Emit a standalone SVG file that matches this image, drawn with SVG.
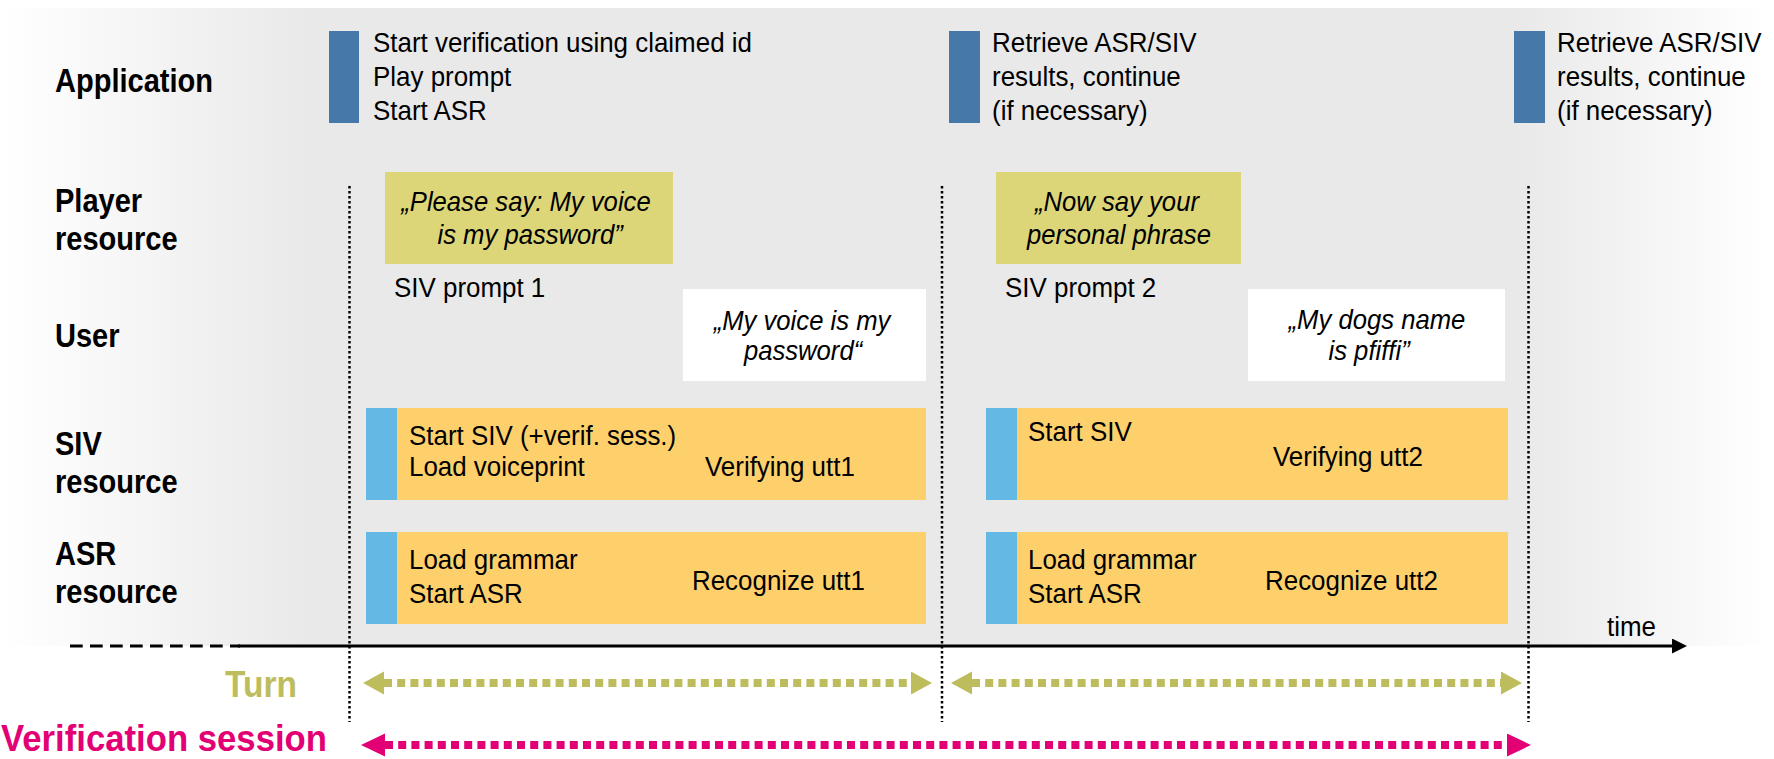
<svg xmlns="http://www.w3.org/2000/svg" width="1774" height="759" viewBox="0 0 1774 759">
  <defs>
    <linearGradient id="bgGrad" x1="0" y1="0" x2="1774" y2="0" gradientUnits="userSpaceOnUse">
      <stop offset="0" stop-color="#ffffff"/>
      <stop offset="0.175" stop-color="#e9e9e9"/>
      <stop offset="0.855" stop-color="#e9e9e9"/>
      <stop offset="0.997" stop-color="#ffffff"/>
    </linearGradient>
    <marker id="headOlive" markerUnits="userSpaceOnUse" markerWidth="22" markerHeight="24" refX="0" refY="11.5" orient="auto-start-reverse">
      <path d="M0,0 L21,11.5 L0,23 Z" fill="#bdbd5e"/>
    </marker>
    <marker id="headMagenta" markerUnits="userSpaceOnUse" markerWidth="25" markerHeight="24" refX="0" refY="11.5" orient="auto-start-reverse">
      <path d="M0,0 L24,11.5 L0,23 Z" fill="#e20074"/>
    </marker>
    <marker id="headTime" markerUnits="userSpaceOnUse" markerWidth="16" markerHeight="16" refX="0" refY="7.5" orient="auto">
      <path d="M0,0 L15,7.5 L0,15 Z" fill="#000000"/>
    </marker>
  </defs>
  <style>
    text { font-family: "Liberation Sans", Arial, sans-serif; fill: #000; }
    .lbl { font-size: 33px; font-weight: bold; transform-box: fill-box; transform-origin: 0 0; transform: scaleX(0.88); }
    .n { font-size: 28.5px; transform-box: fill-box; transform-origin: 0 0; transform: scaleX(0.91); }
    .it { font-size: 28.5px; font-style: italic; text-anchor: middle; transform-box: fill-box; transform-origin: 50% 0; transform: scaleX(0.9); }
    .turn { font-size: 37px; font-weight: bold; fill: #bdbd5e; }
    .vs { font-size: 36px; font-weight: bold; fill: #e20074; }
    .app { fill: #4678a9; }
    .prompt { fill: #dcd679; }
    .user { fill: #ffffff; }
    .res { fill: #fdd06b; }
    .start { fill: #63b8e4; }
    .sep { stroke: #000; stroke-width: 2.5; stroke-dasharray: 2.5 2.5; fill: none; }
    .turnline { stroke: #bdbd5e; stroke-width: 8; stroke-dasharray: 8 5.2; fill: none; marker-start: url(#headOlive); marker-end: url(#headOlive); }
    .vsline { stroke: #e20074; stroke-width: 8; stroke-dasharray: 8 5.2; fill: none; marker-start: url(#headMagenta); marker-end: url(#headMagenta); }
  </style>

  <!-- background -->
  <rect x="0" y="0" width="1774" height="759" fill="#ffffff"/>
  <rect x="0" y="8" width="1774" height="638" fill="url(#bgGrad)"/>

  <!-- lane labels -->
  <g id="lane-application"><text class="lbl" x="55" y="92">Application</text></g>
  <g id="lane-player"><text class="lbl" x="55" y="212">Player</text><text class="lbl" x="55" y="250">resource</text></g>
  <g id="lane-user"><text class="lbl" x="55" y="347">User</text></g>
  <g id="lane-siv"><text class="lbl" x="55" y="455">SIV</text><text class="lbl" x="55" y="493">resource</text></g>
  <g id="lane-asr"><text class="lbl" x="55" y="565">ASR</text><text class="lbl" x="55" y="603">resource</text></g>

  <!-- separators and axes -->
  <g id="connectors">
    <line class="sep" x1="349.5" y1="186" x2="349.5" y2="722"/>
    <line class="sep" x1="942" y1="186" x2="942" y2="722"/>
    <line class="sep" x1="1528.5" y1="186" x2="1528.5" y2="722"/>
    <line x1="70" y1="646" x2="240" y2="646" stroke="#000" stroke-width="3" stroke-dasharray="12.7 7.3"/>
    <line x1="238" y1="646" x2="1672" y2="646" stroke="#000" stroke-width="3" marker-end="url(#headTime)"/>
    <line class="turnline" x1="384" y1="683" x2="911" y2="683"/>
    <line class="turnline" x1="972" y1="683" x2="1501" y2="683"/>
    <line class="vsline" x1="385" y1="745" x2="1507" y2="745"/>
  </g>

  <g id="time-label"><text class="n" x="1607" y="636">time</text></g>
  <g id="turn-label"><text class="turn" x="225" y="697" textLength="72" lengthAdjust="spacingAndGlyphs">Turn</text></g>
  <g id="session-label"><text class="vs" x="1" y="751" textLength="326" lengthAdjust="spacingAndGlyphs">Verification session</text></g>

  <!-- application steps -->
  <g id="app-step-1">
    <rect class="app" x="329" y="31" width="30" height="92"/>
    <text class="n" x="373" y="52">Start verification using claimed id</text>
    <text class="n" x="373" y="86">Play prompt</text>
    <text class="n" x="373" y="120">Start ASR</text>
  </g>
  <g id="app-step-2">
    <rect class="app" x="949" y="31" width="31" height="92"/>
    <text class="n" x="992" y="52">Retrieve ASR/SIV</text>
    <text class="n" x="992" y="86">results, continue</text>
    <text class="n" x="992" y="120">(if necessary)</text>
  </g>
  <g id="app-step-3">
    <rect class="app" x="1514" y="31" width="31" height="92"/>
    <text class="n" x="1557" y="52">Retrieve ASR/SIV</text>
    <text class="n" x="1557" y="86">results, continue</text>
    <text class="n" x="1557" y="120">(if necessary)</text>
  </g>

  <!-- player prompts -->
  <g id="prompt-1">
    <rect class="prompt" x="385" y="172" width="288" height="92"/>
    <text class="it" x="526" y="211">„Please say: My voice</text>
    <text class="it" x="530" y="244">is my password”</text>
    <text class="n" x="394" y="297">SIV prompt 1</text>
  </g>
  <g id="prompt-2">
    <rect class="prompt" x="996" y="172" width="245" height="92"/>
    <text class="it" x="1117" y="211">„Now say your</text>
    <text class="it" x="1119" y="244">personal phrase</text>
    <text class="n" x="1005" y="297">SIV prompt 2</text>
  </g>

  <!-- user utterances -->
  <g id="utterance-1">
    <rect class="user" x="683" y="289" width="243" height="92"/>
    <text class="it" x="802" y="330">„My voice is my</text>
    <text class="it" x="803" y="360">password“</text>
  </g>
  <g id="utterance-2">
    <rect class="user" x="1248" y="289" width="257" height="92"/>
    <text class="it" x="1377" y="329">„My dogs name</text>
    <text class="it" x="1369" y="360">is pfiffi”</text>
  </g>

  <!-- SIV resource -->
  <g id="siv-1">
    <rect class="res" x="366" y="408" width="560" height="92"/>
    <rect class="start" x="366" y="408" width="31" height="92"/>
    <text class="n" x="409" y="445">Start SIV (+verif. sess.)</text>
    <text class="n" x="409" y="476">Load voiceprint</text>
    <text class="n" x="705" y="476">Verifying utt1</text>
  </g>
  <g id="siv-2">
    <rect class="res" x="986" y="408" width="522" height="92"/>
    <rect class="start" x="986" y="408" width="31" height="92"/>
    <text class="n" x="1028" y="441">Start SIV</text>
    <text class="n" x="1273" y="466">Verifying utt2</text>
  </g>

  <!-- ASR resource -->
  <g id="asr-1">
    <rect class="res" x="366" y="532" width="560" height="92"/>
    <rect class="start" x="366" y="532" width="31" height="92"/>
    <text class="n" x="409" y="569">Load grammar</text>
    <text class="n" x="409" y="603">Start ASR</text>
    <text class="n" x="692" y="590">Recognize utt1</text>
  </g>
  <g id="asr-2">
    <rect class="res" x="986" y="532" width="522" height="92"/>
    <rect class="start" x="986" y="532" width="31" height="92"/>
    <text class="n" x="1028" y="569">Load grammar</text>
    <text class="n" x="1028" y="603">Start ASR</text>
    <text class="n" x="1265" y="590">Recognize utt2</text>
  </g>
</svg>
